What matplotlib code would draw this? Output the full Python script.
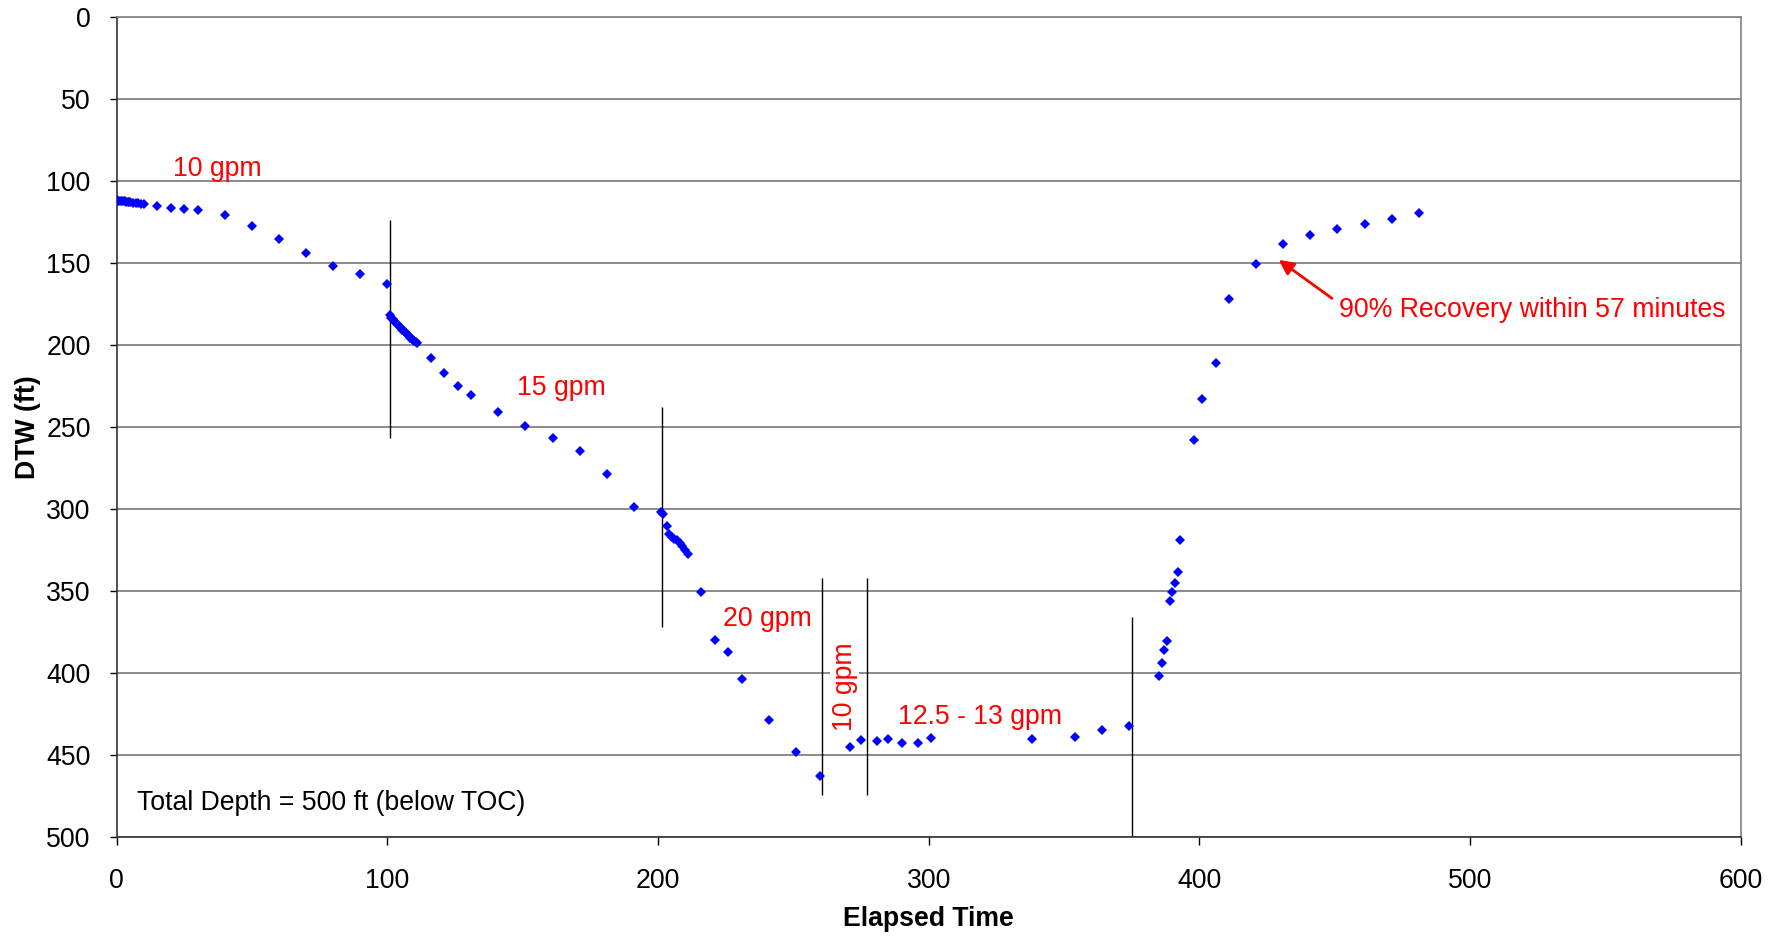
import matplotlib.pyplot as plt

plt.rcParams['font.family'] = ['Liberation Sans', 'DejaVu Sans']

# elapsed time (min) and depth to water (ft)
elapsed = [0, 0.5, 1, 1.5, 2, 2.5, 3, 3.5, 4, 4.5, 5, 6, 7, 8, 9, 10,
           15, 20, 25, 30, 40, 50, 60, 70, 80, 90, 100,
           101, 101.5, 102, 102.5, 103, 103.5, 104, 104.5, 105, 105.5, 106,
           106.5, 107, 107.5, 108, 108.5, 109, 109.5, 110, 110.5, 111,
           116, 121, 126, 131, 141, 151, 161, 171, 181, 191,
           201, 202, 203.2, 204, 205, 206, 207, 208, 209, 210, 211,
           216, 221, 226, 231, 241, 251, 260,
           271, 275, 281, 285, 290, 296, 301, 338, 354, 364, 374,
           385, 386, 387, 388, 389, 390, 391, 392, 393, 398, 401, 406, 411,
           421, 431, 441, 451, 461, 471, 481]
dtw = [112, 112.1, 112.2, 112.3, 112.4, 112.5, 112.6, 112.7, 112.8, 112.9, 113,
       113.3, 113.5, 113.8, 114, 114.3,
       115.2, 116.4, 117.3, 118.1, 120.7, 127.6, 135.5, 144.3, 152, 157.1, 162.8,
       182, 183.5, 184.5, 185.5, 186.5, 187.3, 188, 189, 190, 190.8, 191.5,
       192.3, 193, 194, 195, 195.7, 196.3, 197, 197.8, 198.3, 198.8,
       208.3, 217.1, 225, 230.7, 240.9, 249.4, 257, 264.7, 278.7, 298.8,
       302, 303.5, 310.4, 315.6, 317.1, 318.2, 319.3, 320.7, 322.8, 325, 327.6,
       350.8, 380.1, 387.4, 403.8, 428.7, 448.4, 463,
       445.5, 440.9, 441.6, 440.6, 442.9, 442.9, 440, 440.4, 439.4, 434.8, 432.5,
       401.8, 393.9, 386, 380.7, 356.1, 350.8, 345.5, 338.8, 319.1, 258.1, 232.9,
       211.4, 172.3,
       151, 138.6, 133.3, 129.6, 126.2, 123.2, 119.9]

# pumping-rate change markers
step_x = [101, 201.6, 260.4, 277.2, 375]
step_top = [124, 238, 342.5, 342.5, 366]
step_bot = [257, 372, 474.5, 474.5, 500]

# rate labels
rate_labels = ['10 gpm', '15 gpm', '20 gpm', '12.5 - 13 gpm']
rate_x = [20.8, 147.8, 224.1, 288.7]
rate_y = [92.6, 226.4, 367.3, 426.8]

fs = 19.2
fig = plt.figure(figsize=(17.85, 9.38), dpi=100)
ax = fig.add_axes([0.0654, 0.108, 0.9098, 0.8742])

ax.set_xlim(0, 600)
ax.set_ylim(500, 0)
ax.set_xticks(range(0, 601, 100))
ax.set_yticks(range(0, 501, 50))
ax.yaxis.grid(True, color='#777777', lw=1.2)
ax.set_axisbelow(True)
ax.tick_params(axis='x', direction='out', length=5.5, width=1, pad=17, labelsize=fs)
ax.tick_params(axis='y', direction='out', length=5.3, width=1, pad=13.5, labelsize=fs)
for s in ['top', 'right']:
    ax.spines[s].set_color('#808080')
    ax.spines[s].set_linewidth(1.2)
for s in ['left', 'bottom']:
    ax.spines[s].set_color('#333333')
    ax.spines[s].set_linewidth(1.2)

ax.vlines(step_x, step_top, step_bot, colors='black', lw=1)

ax.plot(elapsed, dtw, linestyle='none', marker='D', ms=5.6, mew=0, color='#0000ff', zorder=3)

for lab, x, y in zip(rate_labels, rate_x, rate_y):
    ax.text(x, y, lab, color='red', fontsize=fs, ha='left', va='center')
ax.text(269, 408.4, '10 gpm', color='red', fontsize=fs, rotation=90, ha='center', va='center',
        bbox=dict(facecolor='white', edgecolor='none', pad=1))

ax.annotate('', xy=(428.5, 147.3), xytext=(449.8, 172.7),
            arrowprops=dict(arrowstyle='-|>', color='red', lw=2, mutation_scale=22))
ax.text(451.5, 178.8, '90% Recovery within 57 minutes', color='red', fontsize=fs,
        ha='left', va='center')
ax.text(7.5, 479.7, 'Total Depth = 500 ft (below TOC)', color='black', fontsize=fs,
        ha='left', va='center')

ax.set_xlabel('Elapsed Time', fontsize=fs, fontweight='bold', va='center')
ax.set_ylabel('DTW (ft)', fontsize=fs, fontweight='bold', va='center')
ax.xaxis.set_label_coords(0.5, -0.1)
ax.yaxis.set_label_coords(-0.0549, 0.5)

fig.savefig('out.png', dpi=100)
